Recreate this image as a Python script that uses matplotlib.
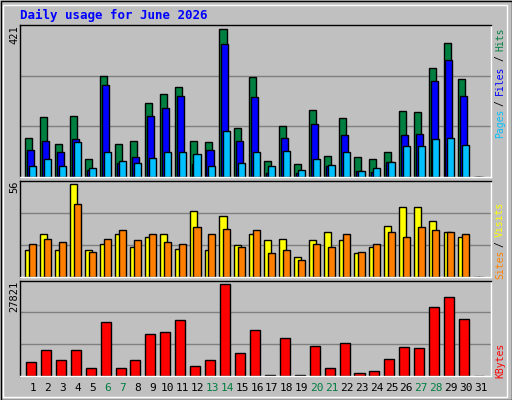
import matplotlib
matplotlib.use("Agg")
import matplotlib.pyplot as plt
from matplotlib.patches import Rectangle

days = list(range(1, 32))
hits = [112,170,95,175,50,287,95,104,210,238,258,104,101,421,141,284,47,144,38,192,61,167,58,50,72,187,184,312,381,278,0]
files = [78,104,70,107,21,261,41,58,175,198,230,38,78,378,104,227,12,112,10,152,30,121,18,15,44,121,124,275,335,232,0]
pages = [32,52,32,101,27,72,47,41,55,70,72,67,32,130,41,70,32,75,21,52,35,70,18,27,44,87,87,107,110,92,0]
visits = [16,26,16,56,16,20,26,18,24,26,17,40,16,37,19,26,22,23,12,22,27,22,14,18,31,42,42,34,27,24,0]
sites = [20,23,21,44,15,23,28,22,26,21,20,30,26,29,18,28,14,16,10,20,18,26,15,20,27,24,30,28,27,26,0]
kbytes = [4263,8019,4974,8019,2538,16545,2538,4974,12891,13500,17154,3147,4974,27821,7105,14109,406,11673,406,9237,2538,10150,1015,1624,5278,8932,8628,20808,23853,17458,0]
weekend = [6,7,13,14,20,21,27,28]

W, H = 512, 400
fig = plt.figure(figsize=(W/100, H/100), dpi=100)
fig.patch.set_facecolor('#C0C0C0')
MONO = 'DejaVu Sans Mono'
GRAY = '#C0C0C0'

fig.add_artist(Rectangle((0.5/W, 0.5/H), 1-1/W, 1-1/H, transform=fig.transFigure,
                         fill=False, ec='black', lw=1))
fig.add_artist(Rectangle((3/W, 3/H), 1-8/W, 1-8/H, transform=fig.transFigure,
                         fill=False, ec='white', lw=1))

def px_axes(x0, y0, x1, y1):
    return fig.add_axes([x0/W, 1-y1/H, (x1-x0)/W, (y1-y0)/H])

def style(ax, top, label):
    ax.set_facecolor(GRAY)
    ax.set_xlim(0.133, 31.67)
    ax.set_ylim(0, top)
    ax.set_xticks([]); ax.set_yticks([])
    for s in ['left', 'top']:
        ax.spines[s].set_color('black')
    for s in ['right', 'bottom']:
        ax.spines[s].set_color('white')
    for s in ax.spines.values():
        s.set_linewidth(1)
    for f in (1/3, 2/3):
        ax.axhline(top*f, color='#808080', lw=1, zorder=0)
    ax.text(-0.012, 1.0, label, transform=ax.transAxes, rotation=90, ha='center',
            va='top', fontsize=7.5, family=MONO)

edge = dict(edgecolor='black', linewidth=1, align='edge')
ax1 = px_axes(20, 25, 491, 177)
style(ax1, 421*455/442, '421')
xs = days
ax1.bar([d-0.51 for d in xs], hits, width=0.47, color='#008040', **edge)
ax1.bar([d-0.38 for d in xs], files, width=0.47, color='#0000FF', **edge)
ax1.bar([d-0.25 for d in xs], pages, width=0.47, color='#00C0FF', **edge)

ax2 = px_axes(20, 180.7, 491, 276.5)
style(ax2, 56*287/276, '56')
ax2.bar([d-0.51 for d in xs], visits, width=0.47, color='#FFFF00', **edge)
ax2.bar([d-0.25 for d in xs], sites, width=0.47, color='#FF8000', **edge)

ax3 = px_axes(20, 280.7, 491, 376)
style(ax3, 27821*285/274, '27821')
ax3.bar([d-0.47 for d in xs], kbytes, width=0.67, color='#FF0000', **edge)

for d in days:
    ax3.text(d, -0.13, str(d), transform=ax3.get_xaxis_transform(), ha='center',
             va='center', fontsize=8, family=MONO,
             color='#008040' if d in weekend else 'black')

fig.text(20/W, 1-15/H, 'Daily usage for June 2026', color='#0000FF', fontsize=9,
         fontweight='bold', family=MONO, va='center', ha='left')

def rlab(txt, y, c):
    fig.text(500/W, 1-y/H, txt, rotation=90, color=c, fontsize=7, family=MONO,
             ha='center', va='center')
rlab('Pages', 123, '#00C0FF'); rlab('/', 103, 'black'); rlab('Files', 80, '#0000FF')
rlab('/', 58, 'black'); rlab('Hits', 39, '#008040')
rlab('Sites', 264, '#FF8000'); rlab('/', 244, 'black'); rlab('Visits', 219, '#FFFF00')
rlab('KBytes', 360, '#FF0000')

fig.savefig('out.png', dpi=100, facecolor=fig.get_facecolor())
